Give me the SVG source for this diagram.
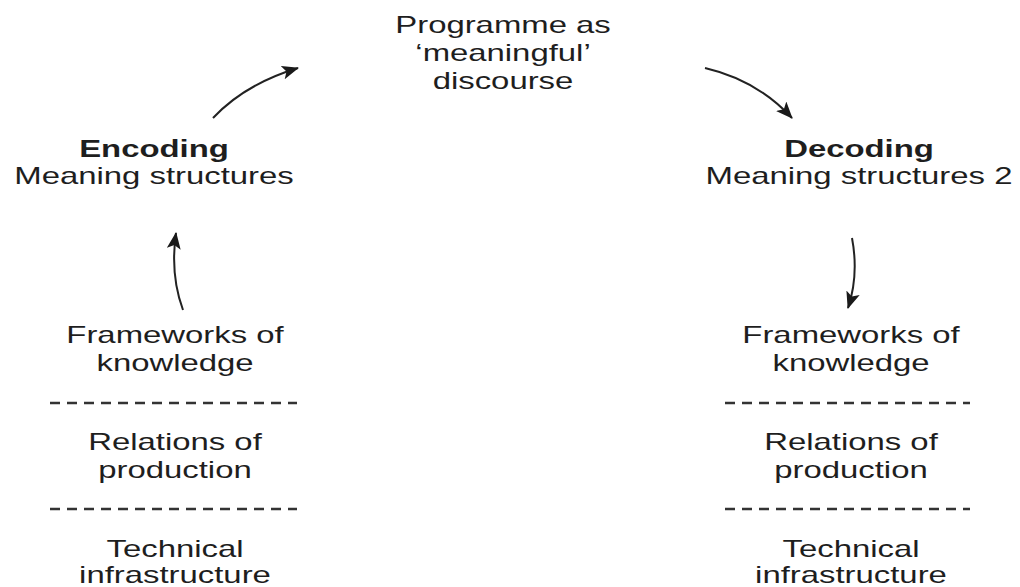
<svg xmlns="http://www.w3.org/2000/svg" width="1020" height="587" viewBox="0 0 1020 587">
<style>
text{font-family:"Liberation Sans",Arial,sans-serif;font-size:24px;fill:#1e1e1e;text-anchor:middle}
.b{font-weight:bold}
.dash{stroke:#333;stroke-width:2.5;stroke-dasharray:10 7;fill:none}
.conn{stroke:#222;stroke-width:2;fill:none}
</style>
<defs>
<marker id="ah" markerUnits="userSpaceOnUse" markerWidth="20" markerHeight="16" refX="16" refY="7" orient="auto">
<path d="M0,0 L17,7 L0,14 L4,7 Z" fill="#1a1a1a"/>
</marker>
</defs>
<rect width="1020" height="587" fill="#fff"/>
<g id="programme" transform="translate(503,0) scale(1.37,1)">
<text x="0" y="33">Programme as</text>
<text x="0" y="61">‘meaningful’</text>
<text x="0" y="89">discourse</text>
</g>
<g id="encoding" transform="translate(154,0) scale(1.37,1)">
<text class="b" x="0" y="157">Encoding</text>
<text x="0" y="184">Meaning structures</text>
</g>
<g id="decoding" transform="translate(859,0) scale(1.37,1)">
<text class="b" x="0" y="157">Decoding</text>
<text x="0" y="184">Meaning structures 2</text>
</g>
<g id="left-stack">
<g transform="translate(175,0) scale(1.37,1)">
<text x="0" y="343">Frameworks of</text>
<text x="0" y="371">knowledge</text>
<text x="0" y="450">Relations of</text>
<text x="0" y="478">production</text>
<text x="0" y="557">Technical</text>
<text x="0" y="583">infrastructure</text>
</g>
<line class="dash" x1="50" y1="403" x2="297" y2="403"/>
<line class="dash" x1="50" y1="509" x2="297" y2="509"/>
</g>
<g id="right-stack">
<g transform="translate(851,0) scale(1.37,1)">
<text x="0" y="343">Frameworks of</text>
<text x="0" y="371">knowledge</text>
<text x="0" y="450">Relations of</text>
<text x="0" y="478">production</text>
<text x="0" y="557">Technical</text>
<text x="0" y="583">infrastructure</text>
</g>
<line class="dash" x1="725" y1="403" x2="970" y2="403"/>
<line class="dash" x1="725" y1="509" x2="970" y2="509"/>
</g>
<g id="connectors">
<path class="conn" d="M213,118 Q245,84 298,68" marker-end="url(#ah)"/>
<path class="conn" d="M705,68 Q757,80 792,118" marker-end="url(#ah)"/>
<path class="conn" d="M183,310 Q170,275 176,233" marker-end="url(#ah)"/>
<path class="conn" d="M852,238 Q859,275 848,308" marker-end="url(#ah)"/>
</g>
</svg>
